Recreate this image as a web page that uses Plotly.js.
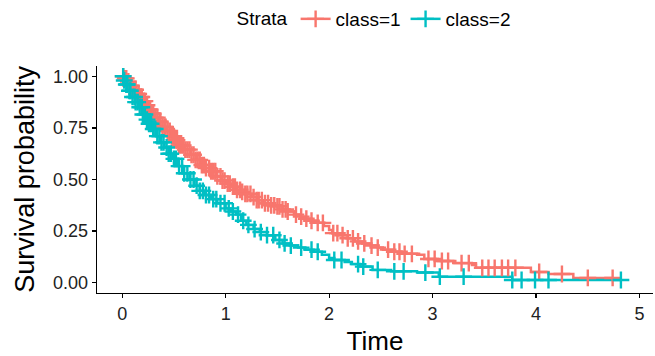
<!DOCTYPE html>
<html>
<head>
<meta charset="utf-8">
<script src="https://cdn.plot.ly/plotly-3.0.1.min.js"></script>
<style>
html,body{margin:0;padding:0;background:#fff;}
#chart{width:655px;height:356px;}
</style>
</head>
<body>
<div id="chart"></div>
<script>
// Kaplan-Meier estimates
var class1Time = [0,0.02,0.05,0.08,0.11,0.14,0.17,0.2,0.23,0.26,0.29,0.32,0.35,0.39,0.43,0.47,0.51,0.55,0.6,0.66,0.71,0.76,0.81,0.86,0.91,0.96,1.0,1.05,1.1,1.15,1.19,1.25,1.3,1.37,1.43,1.48,1.55,1.6,1.66,1.72,1.77,1.83,1.89,1.95,2.0,2.03,2.1,2.18,2.25,2.32,2.4,2.47,2.52,2.62,2.7,2.85,2.92,3.05,3.2,3.38,3.42,3.95,4.12,4.36,4.74];
var class1Surv = [1,0.99,0.975,0.955,0.935,0.915,0.9,0.88,0.86,0.84,0.82,0.8,0.78,0.755,0.735,0.71,0.69,0.665,0.645,0.62,0.595,0.57,0.555,0.54,0.515,0.495,0.48,0.465,0.45,0.44,0.43,0.415,0.4,0.385,0.375,0.37,0.355,0.345,0.33,0.32,0.31,0.3,0.29,0.275,0.255,0.24,0.23,0.215,0.2,0.19,0.18,0.17,0.16,0.15,0.14,0.135,0.115,0.105,0.095,0.086,0.072,0.052,0.042,0.023,0.023];
var class2Time = [0,0.02,0.04,0.07,0.1,0.13,0.16,0.2,0.23,0.26,0.29,0.33,0.37,0.41,0.45,0.49,0.54,0.59,0.65,0.7,0.75,0.8,0.86,0.92,1.0,1.05,1.1,1.15,1.2,1.27,1.33,1.4,1.48,1.55,1.62,1.7,1.77,1.85,1.93,2.0,2.05,2.15,2.22,2.3,2.42,2.6,2.85,3.06,3.77,4.82];
var class2Surv = [1,0.98,0.96,0.93,0.9,0.875,0.85,0.815,0.79,0.77,0.745,0.71,0.68,0.655,0.625,0.6,0.565,0.53,0.5,0.47,0.445,0.425,0.405,0.385,0.36,0.345,0.33,0.3,0.28,0.26,0.245,0.23,0.207,0.19,0.18,0.17,0.16,0.15,0.135,0.12,0.11,0.1,0.09,0.078,0.062,0.055,0.049,0.029,0.013,0.013];
// censoring times
var class1Censor = [0.01,0.03,0.04,0.06,0.08,0.09,0.11,0.13,0.14,0.16,0.18,0.19,0.21,0.22,0.24,0.26,0.27,0.29,0.3,0.32,0.34,0.36,0.37,0.39,0.41,0.42,0.44,0.46,0.48,0.5,0.52,0.53,0.55,0.57,0.59,0.61,0.63,0.65,0.67,0.69,0.71,0.73,0.75,0.77,0.79,0.81,0.84,0.86,0.88,0.9,0.92,0.95,0.97,0.99,1.02,1.04,1.07,1.09,1.11,1.14,1.16,1.19,1.21,1.24,1.27,1.3,1.32,1.35,1.38,1.41,1.44,1.47,1.5,1.52,1.55,1.58,1.6,1.68,1.73,1.78,1.83,1.89,1.94,2.04,2.08,2.13,2.18,2.23,2.28,2.34,2.41,2.47,2.57,2.63,2.68,2.73,2.8,2.96,3.02,3.09,3.15,3.28,3.35,3.48,3.54,3.6,3.67,3.73,3.8,4.03,4.25,4.5,4.74];
var class2Censor = [0.01,0.02,0.04,0.05,0.07,0.08,0.1,0.12,0.13,0.15,0.17,0.19,0.2,0.22,0.24,0.26,0.28,0.3,0.32,0.34,0.36,0.38,0.4,0.43,0.45,0.47,0.5,0.52,0.55,0.58,0.6,0.63,0.66,0.69,0.72,0.75,0.78,0.81,0.84,0.88,0.91,0.95,0.99,1.03,1.07,1.12,1.17,1.22,1.28,1.34,1.4,1.46,1.52,1.57,1.63,1.73,1.83,1.89,2.05,2.12,2.28,2.33,2.47,2.63,2.72,2.93,3.07,3.3,3.77,3.86,3.99,4.12,4.82];
var strataNames = ['class=1','class=2'];
var strataColors = ['#F8766D','#00BFC4'];
var xTicks = [0,1,2,3,4,5];
var yTicks = [0,0.25,0.5,0.75,1];
var yTickText = ['0.00','0.25','0.50','0.75','1.00'];

function survAt(times, surv, t){
  var s = surv[0];
  for (var i=0;i<times.length;i++){ if (times[i] <= t) s = surv[i]; else break; }
  return s;
}

var groups = [[class1Time,class1Surv,class1Censor],[class2Time,class2Surv,class2Censor]];
var traces = [];
groups.forEach(function(g,i){
  traces.push({x:g[0], y:g[1], type:'scatter', mode:'lines', line:{shape:'hv', color:strataColors[i], width:2.5}, showlegend:false, hoverinfo:'skip'});
});
groups.forEach(function(g,i){
  traces.push({x:g[2], y:g[2].map(function(t){return survAt(g[0],g[1],t);}), type:'scatter', mode:'markers',
    marker:{symbol:'cross-thin', size:12, color:strataColors[i], line:{color:strataColors[i], width:2.4}}, showlegend:false, hoverinfo:'skip'});
});
strataNames.forEach(function(n,i){
  traces.push({x:[null], y:[null], type:'scatter', mode:'lines+markers', name:n,
    line:{color:strataColors[i], width:2.5},
    marker:{symbol:'cross-thin', size:12, color:strataColors[i], line:{color:strataColors[i], width:2.4}}});
});

var layout = {
  width:655, height:356,
  margin:{l:97, r:2, t:66, b:63},
  paper_bgcolor:'#fff', plot_bgcolor:'#fff',
  font:{family:'Liberation Sans, Arial, sans-serif', color:'#000'},
  showlegend:true,
  legend:{orientation:'h', xref:'container', yref:'container', x:0.358, y:1.0, xanchor:'left', yanchor:'top',
    title:{text:'Strata', side:'left', font:{size:19}}, font:{size:19}, itemwidth:30, tracegroupgap:0},
  xaxis:{range:[-0.243,5.13], tickvals:xTicks, ticktext:xTicks.map(String), showgrid:false, zeroline:false,
    showline:true, linecolor:'#000', linewidth:1.3, ticks:'outside', ticklen:4, tickcolor:'#000', tickwidth:1.2,
    tickfont:{size:18, color:'#222'}, title:{text:'Time', font:{size:26}, standoff:11}},
  yaxis:{range:[-0.05,1.05], tickvals:yTicks, ticktext:yTickText, showgrid:false, zeroline:false,
    showline:true, linecolor:'#000', linewidth:1.3, ticks:'outside', ticklen:4, tickcolor:'#000', tickwidth:1.2,
    tickfont:{size:18, color:'#222'}},
  annotations:[{text:'Survival probability', textangle:-90, xref:'paper', yref:'paper', x:-0.131, y:0.5,
    xanchor:'center', yanchor:'middle', showarrow:false, font:{size:27, color:'#000'}}]
};
Plotly.newPlot('chart', traces, layout, {displayModeBar:false, staticPlot:true});
</script>
</body>
</html>
